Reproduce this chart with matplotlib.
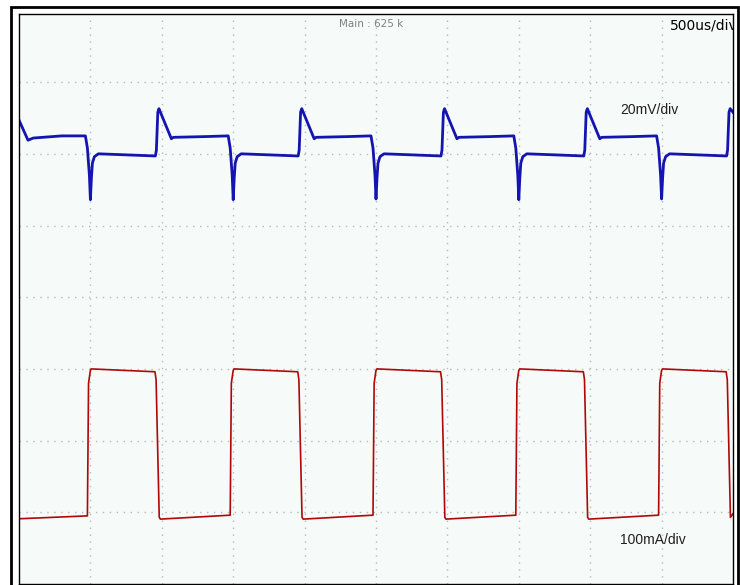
import matplotlib
matplotlib.use("Agg")
import matplotlib.pyplot as plt
from matplotlib.patches import Rectangle

# time in microseconds (500 us/div, 10 div), level in divisions from bottom
blue_t = [0, 63, 100, 300, 465,
          479, 493, 500, 507, 514, 528, 556, 955, 962, 972, 980, 1067, 1081, 1300,
          1465, 1479, 1493, 1500, 1507, 1514, 1528, 1556, 1955, 1962, 1972, 1980, 2067, 2081, 2300,
          2465, 2479, 2493, 2500, 2507, 2514, 2528, 2556, 2955, 2962, 2972, 2980, 3067, 3081, 3300,
          3465, 3479, 3493, 3500, 3507, 3514, 3528, 3556, 3955, 3962, 3972, 3980, 4067, 4081, 4300,
          4465, 4479, 4493, 4500, 4507, 4514, 4528, 4556, 4955, 4962, 4972, 4980, 5000]
blue_v = [6.47, 6.19, 6.22, 6.25, 6.25,
          6.08, 5.70, 5.36, 5.66, 5.87, 5.96, 6.00, 5.97, 6.05, 6.58, 6.63, 6.21, 6.23, 6.24,
          6.25, 6.08, 5.70, 5.36, 5.66, 5.87, 5.96, 6.00, 5.97, 6.05, 6.58, 6.63, 6.21, 6.23, 6.24,
          6.25, 6.08, 5.70, 5.37, 5.66, 5.87, 5.96, 6.00, 5.97, 6.05, 6.58, 6.63, 6.21, 6.23, 6.24,
          6.25, 6.08, 5.70, 5.36, 5.66, 5.87, 5.96, 6.00, 5.97, 6.05, 6.58, 6.63, 6.21, 6.23, 6.24,
          6.25, 6.08, 5.70, 5.37, 5.66, 5.87, 5.96, 6.00, 5.97, 6.05, 6.58, 6.63, 6.58]

red_t = [0, 479, 487, 500, 507, 952, 960, 982, 990,
         1479, 1487, 1500, 1507, 1952, 1960, 1982, 1990,
         2479, 2487, 2500, 2507, 2952, 2960, 2982, 2990,
         3479, 3487, 3500, 3507, 3952, 3960, 3982, 3990,
         4479, 4487, 4500, 4507, 4952, 4960, 4982, 5000]
red_v = [0.91, 0.95, 2.80, 2.98, 3.00, 2.96, 2.85, 0.93, 0.905,
         0.96, 2.80, 2.98, 3.00, 2.96, 2.85, 0.93, 0.905,
         0.96, 2.80, 2.98, 3.00, 2.96, 2.85, 0.93, 0.905,
         0.96, 2.80, 2.98, 3.00, 2.96, 2.85, 0.93, 0.905,
         0.96, 2.80, 2.98, 3.00, 2.96, 2.85, 0.93, 0.98]

fig = plt.figure(figsize=(7.4, 5.85), dpi=100)
fig.patch.set_facecolor("white")

# thick outer frame
fig.patches.append(Rectangle((11 / 740, -0.01), 727 / 740, 1 - 7 / 585 + 0.01,
                             transform=fig.transFigure, fill=False,
                             edgecolor="black", linewidth=2.0))

ax = fig.add_axes([19 / 740, 1 / 585, 714 / 740, 570 / 585])
ax.set_facecolor("#f6faf8")
ax.set_xlim(0, 5000)
ax.set_ylim(0, 7.95)
ax.set_xticks(range(500, 5000, 500))
ax.set_yticks(range(1, 8))
ax.tick_params(length=0, labelbottom=False, labelleft=False)
ax.grid(True, color="#b8b8b8", linestyle=(0, (1, 4)), linewidth=1.0)
for s in ax.spines.values():
    s.set_linewidth(1.0)
    s.set_color("black")

ax.plot(red_t, red_v, color="#b00808", linewidth=1.2)
ax.plot(blue_t, blue_v, color="#1414b0", linewidth=2.0)

ax.text(0.448, 0.982, "Main : 625 k", transform=ax.transAxes, fontsize=7.5,
        color="#808080", ha="left", va="center", family="DejaVu Sans")
ax.text(0.912, 0.979, "500us/div", transform=ax.transAxes, fontsize=10,
        color="black", ha="left", va="center", family="DejaVu Sans", clip_on=True)
ax.text(0.842, 0.832, "20mV/div", transform=ax.transAxes, fontsize=10,
        color="#202020", ha="left", va="center", family="Liberation Sans")
ax.text(0.842, 0.077, "100mA/div", transform=ax.transAxes, fontsize=10,
        color="#202020", ha="left", va="center", family="Liberation Sans")

fig.savefig("out.png", dpi=100)
